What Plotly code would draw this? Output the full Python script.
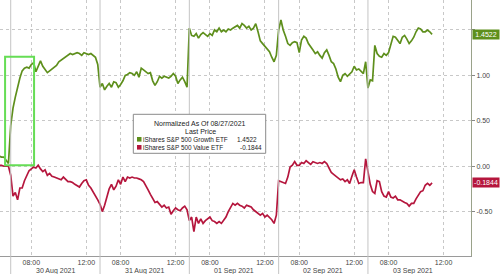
import plotly.graph_objects as go

# ---------------- data ----------------
session_dates = ["27 Aug 2021", "30 Aug 2021", "31 Aug 2021", "01 Sep 2021", "02 Sep 2021", "03 Sep 2021"]
pre_times = ["12:10", "12:20", "12:30", "12:40", "12:50"]  # tail of 27 Aug session
bar_times = ["06:30", "06:40", "06:50", "07:00", "07:10", "07:20", "07:30", "07:40", "07:50",
             "08:00", "08:10", "08:20", "08:30", "08:40", "08:50", "09:00", "09:10", "09:20",
             "09:30", "09:40", "09:50", "10:00", "10:10", "10:20", "10:30", "10:40", "10:50",
             "11:00", "11:10", "11:20", "11:30", "11:40", "11:50", "12:00", "12:10", "12:20",
             "12:30", "12:40", "12:50"]
tick_times = ["08:00", "12:00"]

growth_name = "iShares S&P 500 Growth ETF"
value_name = "iShares S&P 500 Value ETF"
legend_title = "Normalized As Of 08/27/2021"
legend_sub = "Last Price"

growth_0827 = [0.11, 0.10, 0.10, 0.07, 0.03]
growth_0830 = [0.45, 0.64, 0.76, 0.88, 0.97, 1.05, 1.08, 1.09, 1.08, 1.12, 1.14, 1.04, 1.10, 1.16, 1.10,
               1.07, 1.03, 1.05, 1.07, 1.09, 1.11, 1.15, 1.17, 1.19, 1.21, 1.23, 1.24, 1.23, 1.24, 1.25,
               1.24, 1.22, 1.25, 1.24, 1.23, 1.24, 1.22, 1.20, 1.12]
growth_0831 = [0.87, 0.91, 0.84, 0.88, 0.91, 0.87, 0.93, 0.92, 0.87, 0.90, 0.94, 1.00, 1.01, 1.03, 1.02,
               1.00, 1.04, 0.98, 1.08, 1.06, 1.04, 1.02, 1.03, 0.94, 0.89, 0.93, 0.99, 0.97, 0.99, 0.98,
               0.97, 0.99, 1.02, 0.99, 0.91, 0.95, 0.98, 0.93, 0.87]
growth_0901 = [1.52, 1.44, 1.43, 1.46, 1.41, 1.45, 1.47, 1.45, 1.43, 1.46, 1.44, 1.50, 1.48, 1.52, 1.48,
               1.50, 1.48, 1.51, 1.50, 1.52, 1.54, 1.55, 1.52, 1.57, 1.55, 1.52, 1.54, 1.50, 1.52, 1.57,
               1.48, 1.38, 1.35, 1.32, 1.30, 1.26, 1.20, 1.15, 1.22]
growth_0902 = [1.50, 1.61, 1.50, 1.43, 1.35, 1.33, 1.36, 1.37, 1.36, 1.25, 1.39, 1.43, 1.41, 1.35, 1.32,
               1.28, 1.24, 1.26, 1.22, 1.19, 1.25, 1.28, 1.22, 1.15, 1.13, 1.07, 0.98, 0.93, 1.00, 1.02,
               0.99, 1.01, 1.04, 1.10, 1.06, 1.07, 1.04, 1.02, 1.15]
growth_0903 = [0.86, 0.95, 0.94, 1.33, 1.24, 1.21, 1.20, 1.24, 1.22, 1.25, 1.35, 1.43, 1.42, 1.38, 1.35,
               1.42, 1.44, 1.40, 1.35, 1.38, 1.42, 1.48, 1.52, 1.51, 1.48, 1.48, 1.50, 1.48, 1.4522]

value_0827 = [0.01, 0.01, 0.00, 0.00, 0.00]
value_0830 = [-0.10, -0.33, -0.29, -0.37, -0.24, -0.24, -0.16, -0.10, -0.05, -0.03, -0.01, -0.02, 0.01,
              -0.03, -0.06, -0.04, -0.10, -0.08, -0.11, -0.12, -0.13, -0.14, -0.15, -0.12, -0.15, -0.17,
              -0.17, -0.18, -0.20, -0.22, -0.23, -0.19, -0.16, -0.15, -0.21, -0.24, -0.28, -0.32, -0.37]
value_0831 = [-0.42, -0.50, -0.43, -0.35, -0.25, -0.20, -0.26, -0.22, -0.15, -0.20, -0.12, -0.17, -0.12,
              -0.13, -0.12, -0.13, -0.13, -0.14, -0.15, -0.17, -0.21, -0.26, -0.31, -0.35, -0.40, -0.39,
              -0.42, -0.45, -0.43, -0.46, -0.45, -0.53, -0.49, -0.46, -0.48, -0.49, -0.46, -0.44, -0.48]
value_0901 = [-0.60, -0.56, -0.72, -0.56, -0.63, -0.58, -0.63, -0.60, -0.58, -0.56, -0.60, -0.61, -0.63,
              -0.61, -0.63, -0.60, -0.56, -0.50, -0.45, -0.41, -0.43, -0.41, -0.43, -0.44, -0.46, -0.43,
              -0.44, -0.45, -0.48, -0.50, -0.52, -0.54, -0.52, -0.56, -0.54, -0.56, -0.59, -0.63, -0.54]
value_0902 = [-0.16, -0.17, -0.18, -0.19, -0.12, -0.01, 0.01, 0.05, 0.01, 0.01, 0.04, 0.03, 0.06, 0.04,
              0.02, 0.05, 0.04, 0.03, 0.04, 0.03, 0.05, 0.03, -0.02, -0.07, -0.09, -0.11, -0.13, -0.15,
              -0.14, -0.17, -0.15, -0.19, -0.11, -0.04, -0.12, -0.19, -0.18, -0.18, 0.08]
value_0903 = [-0.05, -0.20, -0.28, -0.30, -0.16, -0.17, -0.28, -0.33, -0.34, -0.28, -0.34, -0.35, -0.33,
              -0.37, -0.37, -0.39, -0.40, -0.41, -0.44, -0.41, -0.41, -0.36, -0.32, -0.28, -0.27, -0.21,
              -0.19, -0.21, -0.1844]

y_tickvals = [-0.5, 0.0, 0.5, 1.0, 1.5]
y_ticktext = ["-0.50", "0.00", "0.50", "1.00", ""]

# ---------------- styling ----------------
GREEN = "#5e8f1c"
RED = "#b5163d"
HILITE = "#66dd55"
FONT = "Liberation Sans, Arial, sans-serif"
SESSION_LEN = 6.5  # hours in a trading session (06:30-13:00)


def sx(day_idx, t):
    hh, mm = t.split(":")
    return day_idx * SESSION_LEN + int(hh) + int(mm) / 60 - 6.5


growth_days = [growth_0827, growth_0830, growth_0831, growth_0901, growth_0902, growth_0903]
value_days = [value_0827, value_0830, value_0831, value_0901, value_0902, value_0903]

xs, gy, vy = [], [], []
for i, (gd, vd) in enumerate(zip(growth_days, value_days)):
    day_idx = i - 1
    times = pre_times if i == 0 else bar_times
    for t, g, v in zip(times, gd, vd):
        xs.append(sx(day_idx, t))
        gy.append(g)
        vy.append(v)

XMIN, XMAX = -0.78, 33.5
YMIN, YMAX = -0.989, 1.83
W, H = 500, 274
ML, MR, MT, MB = 0, 29, 0, 18
PW, PH = W - ML - MR, H - MT - MB


def px(xp):
    return xp / PW


def py(yp):
    return 1 - yp / PH


fig = go.Figure()
fig.add_trace(go.Scatter(x=xs, y=gy, mode="lines", name=growth_name,
                         line=dict(color=GREEN, width=1.7), showlegend=False, hoverinfo="skip"))
fig.add_trace(go.Scatter(x=xs, y=vy, mode="lines", name=value_name,
                         line=dict(color=RED, width=1.7), showlegend=False, hoverinfo="skip"))

n_days = len(session_dates) - 1
tickvals, ticktext = [], []
for d in range(n_days):
    for t in tick_times:
        tickvals.append(sx(d, t))
        ticktext.append(t)

shapes = []
annotations = []
# day separators
for d in range(n_days):
    xv = d * SESSION_LEN
    xpaper = (xv - XMIN) / (XMAX - XMIN)
    shapes.append(dict(type="line", xref="paper", yref="paper", x0=xpaper, x1=xpaper,
                       y0=-MB / PH, y1=1, line=dict(color="#c4c4c4", width=1)))
    annotations.append(dict(x=xv + SESSION_LEN / 2, xref="x", y=0, yref="paper",
                            yanchor="top", yshift=-9, text=session_dates[d + 1], showarrow=False,
                            font=dict(size=7, color="#444", family=FONT)))

# highlight rectangle
shapes.append(dict(type="rect", xref="x", yref="y", x0=-0.41, x1=1.70, y0=0.01, y1=1.205,
                   line=dict(color=HILITE, width=2), fillcolor="rgba(0,0,0,0)"))

# legend box
shapes.append(dict(type="rect", xref="paper", yref="paper", x0=px(133.3), x1=px(265.7),
                   y0=py(153.3), y1=py(114.3), line=dict(color="#8a8a8a", width=1),
                   fillcolor="white", layer="above"))
annotations.append(dict(x=px(200), y=py(123.3), xref="paper", yref="paper", text=legend_title,
                        showarrow=False, font=dict(size=7, color="#222", family=FONT)))
annotations.append(dict(x=px(200), y=py(131), xref="paper", yref="paper", text=legend_sub,
                        showarrow=False, font=dict(size=7, color="#222", family=FONT)))
for name, col, val, yrow, vx in [(growth_name, GREEN, growth_0903[-1], 139.3, 257.5),
                                 (value_name, RED, value_0903[-1], 147.3, 262.5)]:
    shapes.append(dict(type="rect", xref="paper", yref="paper", x0=px(137), x1=px(141.5),
                       y0=py(yrow + 2.3), y1=py(yrow - 2.3), line=dict(width=0), fillcolor=col,
                       layer="above"))
    annotations.append(dict(x=px(142.2), y=py(yrow), xref="paper", yref="paper", xanchor="left",
                            text=name, showarrow=False, borderpad=0,
                            font=dict(size=6.4, color="#222", family=FONT)))
    annotations.append(dict(x=px(vx), y=py(yrow), xref="paper", yref="paper", xanchor="right",
                            text=f"{val:.4f}", showarrow=False, borderpad=0,
                            font=dict(size=6.4, color="#222", family=FONT)))

# right-side last value labels
for val, col in [(growth_0903[-1], GREEN), (value_0903[-1], RED)]:
    annotations.append(dict(x=1, xref="paper", y=val, yref="y", xanchor="left", xshift=1,
                            text=f"{val:.4f}", showarrow=False, bgcolor=col, width=26, height=9,
                            borderpad=0, font=dict(size=7, color="white", family=FONT)))

fig.update_layout(
    width=W, height=H,
    margin=dict(l=ML, r=MR, t=MT, b=MB, pad=0),
    paper_bgcolor="white", plot_bgcolor="white",
    font=dict(family=FONT, size=7, color="#444"),
    xaxis=dict(range=[XMIN, XMAX], tickvals=tickvals, ticktext=ticktext, showgrid=True,
               gridcolor="#c8c8c8", griddash="dot", gridwidth=1, zeroline=False,
               showline=True, linecolor="#9a9a9a", linewidth=1, ticks="", ticklen=0,
               tickfont=dict(size=7, color="#444", family=FONT)),
    yaxis=dict(range=[YMIN, YMAX], side="right", tickvals=y_tickvals, ticktext=y_ticktext,
               showgrid=True, gridcolor="#c8c8c8", griddash="dot", gridwidth=1, zeroline=False,
               showline=True, linecolor="#9aa28a", linewidth=1, ticks="outside", ticklen=3,
               tickcolor="#888", tickfont=dict(size=7, color="#444", family=FONT)),
    shapes=shapes,
    annotations=annotations,
)

fig.write_html("out.html")
